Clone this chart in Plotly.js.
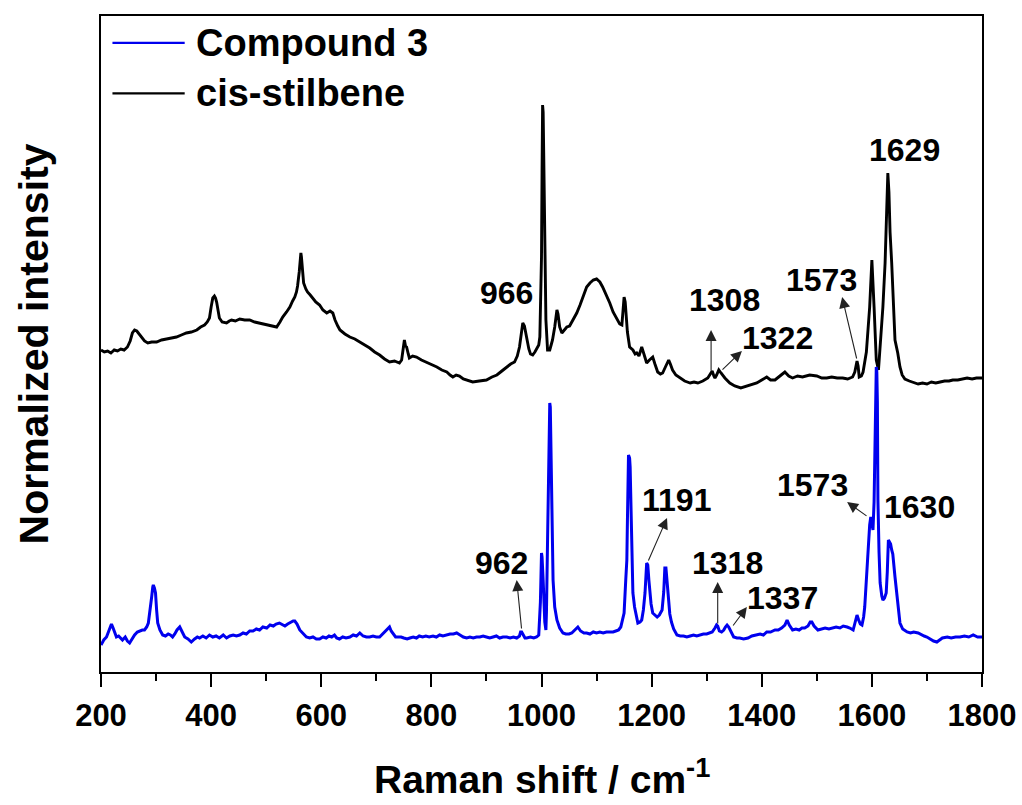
<!DOCTYPE html>
<html>
<head>
<meta charset="utf-8">
<script src="https://cdn.plot.ly/plotly-3.0.1.min.js"></script>
<style>
  html, body { margin: 0; padding: 0; background: #fff; }
  #chart { width: 1022px; height: 805px; }
</style>
</head>
<body>
<div id="chart"></div>
<script>
// Raman spectra: Compound 3 vs cis-stilbene (intensity in arbitrary units, stacked)
const seriesNames = ['Compound 3', 'cis-stilbene'];
const seriesColors = ['#0000ee', '#000000'];
const xAxisTitle = 'Raman shift / cm<sup>-1</sup>';
const yAxisTitle = 'Normalized intensity';

// cis-stilbene spectrum (upper trace)
const cisShift = [200,206,212,218,224,230,236,242,248,253,257,261,265,269,274,279,285,292,301,310,319,328,337,346,355,364,374,381,388,393,397,400,403,406,408,410,413,415,420,428,433,437,444,452,461,470,479,488,497,506,512,519,525,530,537,543,548,552,555,557,560,563,564,566,568,572,575,580,584,590,597,603,610,616,621,625,630,634,643,652,661,670,679,688,697,706,715,724,733,742,746,749,751,753,755,758,760,766,773,782,791,800,810,819,828,834,839,845,851,858,863,869,875,887,900,910,919,928,937,944,951,956,960,963,966,969,971,974,977,980,984,988,993,995,997,999,1000,1001,1002,1003,1004,1006,1008,1011,1015,1018,1020,1024,1028,1030,1033,1037,1042,1046,1051,1057,1064,1070,1075,1082,1088,1094,1100,1106,1111,1118,1124,1130,1137,1142,1146,1148,1150,1152,1153,1156,1160,1166,1170,1173,1177,1182,1186,1191,1196,1202,1206,1211,1216,1220,1225,1231,1234,1238,1244,1251,1260,1270,1277,1284,1293,1302,1306,1310,1313,1315,1318,1322,1326,1333,1342,1351,1362,1373,1382,1391,1400,1409,1416,1424,1433,1442,1449,1456,1465,1474,1487,1500,1509,1518,1527,1537,1547,1556,1565,1569,1573,1575,1577,1581,1584,1590,1596,1600,1604,1608,1612,1616,1620,1624,1627,1629,1631,1633,1636,1642,1647,1651,1655,1660,1668,1675,1684,1692,1700,1708,1716,1724,1732,1740,1747,1756,1764,1773,1782,1790,1800];
const cisIntensity = [322,320,321,319,322,321,323,322,325,331,339,342,341,338,335,331,329,330,330,332,333,334,335,337,339,340,342,345,347,350,354,365,374,376,374,370,360,354,350,349,351,352,351,353,352,352,350,349,348,347,346,345,350,355,360,365,371,375,380,386,400,419,415,400,389,383,380,377,374,370,367,362,359,361,359,352,346,342,338,335,333,330,327,324,320,317,313,310,311,309,312,322,332,326,325,318,314,316,315,312,310,308,305,302,300,297,295,297,296,293,292,291,290,291,292,295,297,301,305,308,310,316,325,340,349,346,340,330,323,318,317,320,325,327,335,380,415,500,567,560,520,455,352,322,322,328,332,345,362,358,345,339,342,345,346,352,359,367,375,385,389,392,393,390,385,377,369,360,352,348,347,360,375,370,359,340,325,322,318,319,316,325,318,309,312,315,308,300,298,299,305,312,308,302,297,294,291,289,290,289,291,294,297,301,296,294,297,302,299,294,289,286,284,286,287,289,292,295,292,292,296,300,296,294,296,295,297,296,294,294,295,294,294,293,295,300,311,306,295,296,300,320,365,412,365,312,302,330,365,409,470,499,480,440,409,332,319,305,297,293,291,290,288,289,288,290,289,290,291,291,292,292,293,294,293,294,294];

// Compound 3 spectrum (lower trace)
const compShift = [200,205,210,215,219,222,225,228,232,236,239,244,248,252,256,261,266,271,275,279,283,286,289,292,294,295,297,299,301,303,307,312,317,322,326,330,334,338,343,347,352,358,364,370,375,379,385,391,397,403,409,415,422,428,434,440,446,452,458,464,470,476,482,488,494,501,507,513,518,524,530,534,539,545,549,552,556,561,567,573,579,585,591,597,603,609,614,619,624,628,633,639,645,652,658,664,670,676,682,688,694,700,706,712,718,722,724,727,731,735,739,745,750,756,761,767,773,778,784,790,796,803,809,815,821,828,834,840,846,852,858,864,870,876,882,888,894,900,906,912,918,924,930,937,943,949,955,960,962,964,967,970,973,980,986,991,995,998,1000,1001,1003,1005,1006,1008,1009,1011,1013,1015,1016,1017,1019,1021,1024,1028,1033,1039,1044,1050,1055,1060,1066,1071,1077,1082,1088,1094,1100,1106,1112,1118,1124,1130,1135,1140,1144,1146,1148,1150,1153,1155,1156,1158,1160,1161,1162,1164,1166,1169,1172,1175,1179,1182,1185,1188,1191,1193,1195,1197,1199,1202,1206,1210,1214,1219,1222,1224,1226,1228,1230,1233,1236,1240,1246,1252,1258,1264,1270,1276,1282,1288,1294,1300,1305,1310,1315,1318,1320,1323,1327,1331,1334,1337,1340,1344,1349,1355,1360,1367,1375,1382,1389,1397,1403,1409,1416,1424,1430,1436,1442,1446,1450,1456,1462,1468,1473,1478,1484,1488,1491,1495,1502,1508,1515,1522,1529,1535,1542,1548,1555,1560,1566,1569,1573,1576,1579,1582,1585,1587,1590,1593,1596,1598,1600,1602,1604,1606,1608,1609,1610,1611,1613,1615,1618,1620,1623,1626,1628,1630,1632,1634,1636,1638,1642,1646,1648,1651,1656,1660,1664,1670,1676,1684,1690,1695,1700,1706,1712,1718,1722,1728,1737,1744,1752,1760,1768,1776,1784,1792,1800];
const compIntensity = [27,32,35,43,48,44,40,35,36,33,32,35,31,29,33,37,40,41,42,42,45,49,60,75,85,87,84,79,62,49,42,37,36,38,37,35,38,42,45,40,35,33,30,33,35,34,36,34,37,35,36,34,37,34,36,37,36,37,39,38,41,41,43,42,45,44,47,46,48,49,47,46,48,50,51,51,48,42,38,35,34,35,33,33,35,34,36,35,37,34,33,35,34,35,37,36,39,36,35,35,36,35,35,38,42,44,45,41,38,35,35,35,34,33,34,35,34,36,35,36,35,36,35,37,36,37,38,38,39,37,35,34,35,34,35,35,36,35,34,35,36,34,35,35,34,35,34,36,40,40,37,34,34,35,34,35,37,70,119,115,92,60,50,42,60,132,220,269,265,230,192,92,65,52,44,39,38,38,39,42,45,41,39,39,38,40,39,40,39,40,40,40,41,42,45,49,53,59,92,112,150,217,214,205,179,120,79,65,55,49,50,52,62,79,109,107,92,79,68,59,57,55,57,62,80,104,104,90,72,58,50,43,37,36,36,35,36,37,36,37,38,38,39,40,44,47,46,41,40,42,45,47,45,40,35,34,34,33,34,36,37,38,37,40,40,42,42,44,47,52,47,42,43,42,44,44,46,50,50,46,42,43,44,43,44,45,44,46,45,44,42,48,57,52,48,47,55,65,95,122,147,155,150,142,170,239,305,300,270,172,120,89,76,72,74,79,100,132,130,128,122,118,95,72,60,49,43,41,40,39,40,39,37,36,35,33,31,30,32,34,35,34,35,35,36,35,37,35,35];

// Assigned band positions (cm-1) labelled on each trace
const cisBands = [966, 1308, 1322, 1573, 1629];
const compBands = [962, 1191, 1318, 1337, 1573, 1630];

const FONT = 'Liberation Sans, Arial, Helvetica, sans-serif';

const traces = [
  {
    x: cisShift, y: cisIntensity, name: seriesNames[1],
    type: 'scatter', mode: 'lines',
    line: {color: seriesColors[1], width: 2.9}
  },
  {
    x: compShift, y: compIntensity, name: seriesNames[0],
    type: 'scatter', mode: 'lines',
    line: {color: seriesColors[0], width: 3}
  }
];

// label placement for each band: [text x, text y, arrow tail x, tail y, head x, head y] (null = no arrow)
const cisPlace = [
  [937, 379, null],
  [1333, 372, [1308, 300, 1308, 342]],
  [1429, 334, [1326, 301, 1364, 321]],
  [1509, 392, [1573, 312, 1546, 375]],
  [1660, 522, null]
];
const compPlace = [
  [928, 109, [964, 42, 955, 92]],
  [1246, 172, [1193, 110, 1228, 154]],
  [1338, 109, [1320, 47, 1320, 90]],
  [1437, 74, [1346, 45, 1373, 65]],
  [1493, 187, [1593, 155, 1555, 170]],
  [1687, 165, null]
];

const annotations = [];
function addBandLabels(bands, place) {
  bands.forEach((b, i) => {
    const p = place[i];
    annotations.push({
      x: p[0], y: p[1], xref: 'x', yref: 'y',
      text: String(b), showarrow: false,
      xanchor: 'center', yanchor: 'middle',
      font: {family: FONT, size: 32, color: '#000', weight: 'bold'}
    });
    if (p[2]) {
      const a = p[2];
      annotations.push({
        x: a[2], y: a[3], ax: a[0], ay: a[1],
        xref: 'x', yref: 'y', axref: 'x', ayref: 'y',
        text: '', showarrow: true,
        arrowhead: 2, arrowsize: 2, arrowwidth: 1.1, arrowcolor: '#222',
        standoff: 0, startstandoff: 0
      });
    }
  });
}
addBandLabels(cisBands, cisPlace);
addBandLabels(compBands, compPlace);

// x-axis title placed close to the bottom edge of the figure
annotations.push({
  x: 0.5, y: -0.2, xref: 'paper', yref: 'paper',
  text: xAxisTitle, showarrow: false, xanchor: 'center', yanchor: 'bottom',
  font: {family: FONT, size: 39, color: '#000', weight: 'bold'}
});

// legend drawn as line samples + labels in the upper-left corner
const shapes = [];
const legendRows = [0.959, 0.882];
seriesNames.forEach((name, i) => {
  shapes.push({
    type: 'line', xref: 'paper', yref: 'paper',
    x0: 0.013, x1: 0.095, y0: legendRows[i], y1: legendRows[i],
    line: {color: seriesColors[i], width: 2.4}
  });
  annotations.push({
    x: 0.106, y: legendRows[i], xref: 'paper', yref: 'paper',
    text: name, showarrow: false, xanchor: 'left', yanchor: 'middle',
    font: {family: FONT, size: 38, color: '#000', weight: 'bold'}
  });
});

const layout = {
  width: 1022, height: 805,
  margin: {l: 101, r: 40, t: 16, b: 133},
  paper_bgcolor: '#fff', plot_bgcolor: '#fff',
  showlegend: false,
  font: {family: FONT, color: '#000'},
  xaxis: {
    range: [200, 1800], tick0: 200, dtick: 200,
    ticks: 'outside', ticklen: 13, tickwidth: 2, tickcolor: '#000',
    minor: {dtick: 100, ticks: 'outside', ticklen: 7, tickwidth: 2, tickcolor: '#000'},
    showline: true, linewidth: 2, linecolor: '#000', mirror: true,
    showgrid: false, zeroline: false,
    ticklabelstandoff: 2,
    tickfont: {family: FONT, size: 31, weight: 'bold', color: '#000'}
  },
  yaxis: {
    range: [0, 656], showticklabels: false, ticks: '',
    showline: true, linewidth: 2, linecolor: '#000', mirror: true,
    showgrid: false, zeroline: false,
    title: {text: yAxisTitle, font: {family: FONT, size: 41, weight: 'bold', color: '#000'}, standoff: 38}
  },
  annotations: annotations,
  shapes: shapes
};

Plotly.newPlot('chart', traces, layout, {displayModeBar: false, staticPlot: true});
</script>
</body>
</html>
